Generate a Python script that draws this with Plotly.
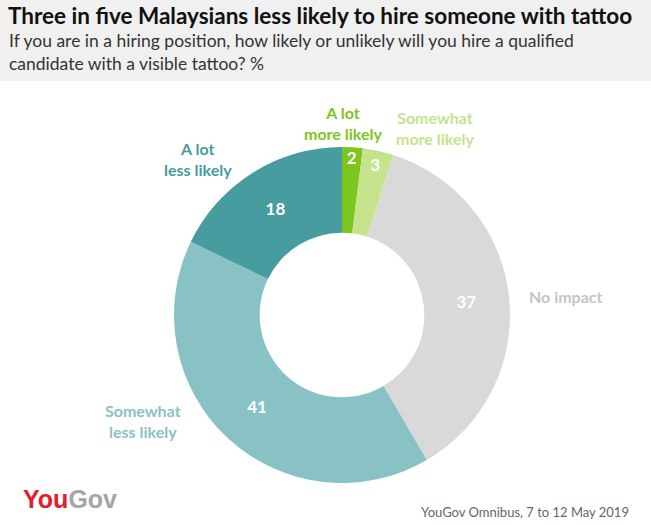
import plotly.graph_objects as go

categories = ["A lot more likely", "Somewhat more likely", "No impact", "Somewhat less likely", "A lot less likely"]
values = [2, 3, 37, 41, 18]
colors = ["#7cc61d", "#c5e38c", "#d9d9d9", "#89c2c4", "#469c9f"]
label_texts = ["A lot<br>more likely", "Somewhat<br>more likely", "No impact", "Somewhat<br>less likely", "A lot<br>less likely"]
label_colors = ["#7cc61d", "#c5e38c", "#c4c4c4", "#89c2c4", "#469c9f"]
label_pos = [(343, 123), (435, 128), (566, 296), (143, 421), (198, 159)]

W, H = 651, 525
cx, cy, R = 342, 315, 168

fig = go.Figure(go.Pie(
    labels=categories, values=values, sort=False, direction="clockwise", rotation=0,
    hole=0.49, marker=dict(colors=colors, line=dict(width=0)),
    textinfo="value", textposition="inside", insidetextorientation="horizontal",
    textfont=dict(family="Lato", size=17, color="white", weight="bold"),
    domain=dict(x=[(cx - R) / W, (cx + R) / W], y=[(H - cy - R) / H, (H - cy + R) / H]),
    showlegend=False, hoverinfo="label+value",
))

annotations = []
for t, c, (x, y) in zip(label_texts, label_colors, label_pos):
    annotations.append(dict(text=t, x=x / W, y=1 - y / H, xref="paper", yref="paper",
                            showarrow=False, xanchor="center", yanchor="middle",
                            font=dict(family="Lato", size=16, color=c, weight="bold"),
                            align="center"))

annotations += [
    dict(text="<b>Three in five Malaysians less likely to hire someone with tattoo</b>",
         x=6 / W, y=1 - 16 / H, xref="paper", yref="paper", xanchor="left", yanchor="middle",
         showarrow=False, font=dict(family="Lato", size=22.5, color="#111")),
    dict(text="If you are in a hiring position, how likely or unlikely will you hire a qualified<br>candidate with a visible tattoo? %",
         x=7 / W, y=1 - 52 / H, xref="paper", yref="paper", xanchor="left", yanchor="middle",
         showarrow=False, align="left", font=dict(family="Lato", size=17.5, color="#333")),
    dict(text="<b><span style='color:#e3202a'>You</span><span style='color:#a5a5a5'>Gov</span></b>",
         x=21 / W, y=1 - 499 / H, xref="paper", yref="paper", xanchor="left", yanchor="middle",
         showarrow=False, font=dict(family="Liberation Sans Narrow, Liberation Sans", size=25)),
    dict(text="YouGov Omnibus, 7 to 12 May 2019",
         x=631 / W, y=1 - 512 / H, xref="paper", yref="paper", xanchor="right", yanchor="middle",
         showarrow=False, font=dict(family="Lato", size=13, color="#666")),
]

fig.update_layout(
    width=W, height=H, margin=dict(l=0, r=0, t=0, b=0),
    paper_bgcolor="white", plot_bgcolor="white",
    annotations=annotations,
    uniformtext=dict(minsize=17, mode="show"),
    shapes=[dict(type="rect", xref="paper", yref="paper", x0=0, x1=1, y0=1 - 81 / H, y1=1,
                 fillcolor="#f0f0f0", line=dict(width=0), layer="below")],
)

fig.write_html("out.html")
